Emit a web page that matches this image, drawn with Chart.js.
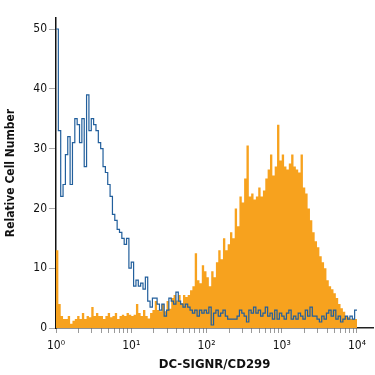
<!DOCTYPE html>
<html>
<head>
<meta charset="utf-8">
<script src="https://cdn.jsdelivr.net/npm/chart.js@4"></script>
<style>
  html, body { margin: 0; padding: 0; background: #fff; }
  #wrap { width: 375px; height: 375px; }
</style>
</head>
<body>
<div id="wrap"><canvas id="chart-hist" width="375" height="375"></canvas></div>
<script>
// canali per decade (scala log, 4 decadi)
const binsPerDecade = 32;

// istogramma controllo (linea blu)
const controlCounts = [
  50, 33, 22, 24, 29, 32, 24, 31, 35, 34, 31, 35, 27, 39, 33, 35,
  34, 33, 31, 30, 27, 26, 24, 22, 19, 18, 16.5, 16, 15, 14, 15, 10,
  11, 7, 8, 7, 7.5, 6.5, 8.5, 4.5, 3.5, 5, 5, 4, 3, 4, 2, 3,
  5, 4.5, 4, 6, 4.5, 4, 3.5, 4, 3.5, 3, 2.5, 3, 2, 3, 2.5, 3,
  2.5, 3.5, 0.5, 2.5, 3, 2, 2.5, 3, 2, 1.5, 1.5, 1.5, 1.5, 2, 3, 2.5,
  2, 1, 3, 2.5, 3.5, 2.5, 3, 2, 2.5, 3.5, 2, 2.5, 1.5, 3, 1.5, 2.5,
  2, 1.5, 2.5, 3, 1.5, 2, 1.5, 2.5, 2, 1.5, 3, 2, 3.5, 2, 2, 1.5,
  1, 2, 1.5, 2.5, 3, 2, 3, 1.5, 2, 1, 1.5, 2, 1.5, 2, 1.5, 3
];

// istogramma DC-SIGNR/CD299 (area arancione)
const stainedCounts = [
  13, 4, 2, 1.5, 1.5, 2, 0.7, 1.2, 1.5, 2, 1.5, 2.5, 1.5, 2, 1.8, 3.5,
  2, 2.5, 2, 2, 1.5, 2, 2.5, 1.8, 2, 2.5, 1.5, 2, 2.2, 2, 2.5, 2.2,
  2, 2.2, 4, 2.5, 2, 3, 2, 1.6, 2.5, 3, 4.5, 3, 2.8, 4, 2.8, 4.5,
  3.2, 5, 5.5, 4.6, 5.5, 4.2, 5.5, 5.2, 5.5, 6.3, 7, 12.5, 8, 7.5, 10.5, 9.5,
  8.5, 7, 9.5, 8.5, 11, 13, 11.5, 15, 13, 14, 16, 15, 20, 17, 22, 21,
  25, 30.5, 22, 22.5, 21.5, 22, 23.5, 22, 23, 25, 26.5, 29, 25.5, 27, 34, 28,
  29, 27, 26.5, 27.5, 29, 27, 26.5, 26, 29, 23.5, 22.5, 20, 18, 16, 14.5, 13.5,
  12, 11, 10, 8, 7, 6.5, 5.8, 5, 4, 3.3, 2.7, 2, 1.8, 1.5, 1.5, 1.5
];

const yTicks = [0, 10, 20, 30, 40, 50];
const xTickLabels = ['10\u2070', '10\u00b9', '10\u00b2', '10\u00b3', '10\u2074'];

const fontFam = "'Liberation Sans Narrow', 'DejaVu Sans Condensed', 'Roboto', sans-serif";

// da conteggi per canale a punti {x,y} (x = bordo sinistro del canale)
function toSteps(counts) {
  const pts = counts.map((c, i) => ({ x: Math.pow(10, i / binsPerDecade), y: c }));
  pts.push({ x: Math.pow(10, counts.length / binsPerDecade), y: counts[counts.length - 1] });
  return pts;
}

const ctx = document.getElementById('chart-hist');
new Chart(ctx, {
  type: 'line',
  data: {
    datasets: [
      {
        data: toSteps(controlCounts),
        borderColor: '#225f9c',
        borderWidth: 1.2,
        stepped: true,
        pointRadius: 0,
        fill: false,
        order: 0
      },
      {
        data: toSteps(stainedCounts),
        borderColor: '#f7a21e',
        borderWidth: 0,
        backgroundColor: '#f7a21e',
        stepped: true,
        pointRadius: 0,
        fill: 'origin',
        order: 1
      }
    ]
  },
  options: {
    responsive: false,
    animation: false,
    layout: { padding: { top: 18, right: 2, left: 0, bottom: 0 } },
    plugins: {
      legend: { display: false },
      tooltip: { enabled: false }
    },
    scales: {
      x: {
        type: 'logarithmic',
        min: 1,
        max: 16320,
        afterFit: (scale) => { scale.height = 47; },
        afterBuildTicks: (scale) => {
          const t = [];
          for (let d = 0; d < 4; d++)
            for (let m = 1; m < 10; m++) t.push({ value: m * Math.pow(10, d) });
          t.push({ value: 10000 });
          scale.ticks = t;
        },
        grid: { drawOnChartArea: false, drawTicks: true, tickLength: 5, color: '#9a9a9a' },
        border: { display: true, color: '#222', width: 1.5 },
        ticks: {
          autoSkip: false,
          maxRotation: 0,
          padding: 6,
          color: '#111',
          font: { family: fontFam, size: 12 },
          callback: (value) => {
            const e = Math.log10(value);
            return Math.abs(e - Math.round(e)) < 1e-9 ? xTickLabels[Math.round(e)] : '';
          }
        },
        title: {
          display: true,
          text: 'DC-SIGNR/CD299',
          color: '#111',
          font: { family: fontFam, size: 13, weight: 'bold' },
          padding: { top: 0, bottom: 3 }
        }
      },
      y: {
        type: 'linear',
        min: 0,
        max: 51.84,
        afterFit: (scale) => { scale.width = 56; },
        afterBuildTicks: (scale) => {
          scale.ticks = yTicks.map(v => ({ value: v }));
        },
        grid: { drawOnChartArea: false, drawTicks: true, tickLength: 7, color: '#aaaaaa' },
        border: { display: true, color: '#111', width: 1.5 },
        ticks: {
          padding: 2,
          color: '#111',
          font: { family: fontFam, size: 12 }
        },
        title: {
          display: true,
          text: 'Relative Cell Number',
          color: '#111',
          font: { family: fontFam, size: 12, weight: 'bold' },
          padding: { top: 4, bottom: 0 }
        }
      }
    }
  }
});
</script>
</body>
</html>
